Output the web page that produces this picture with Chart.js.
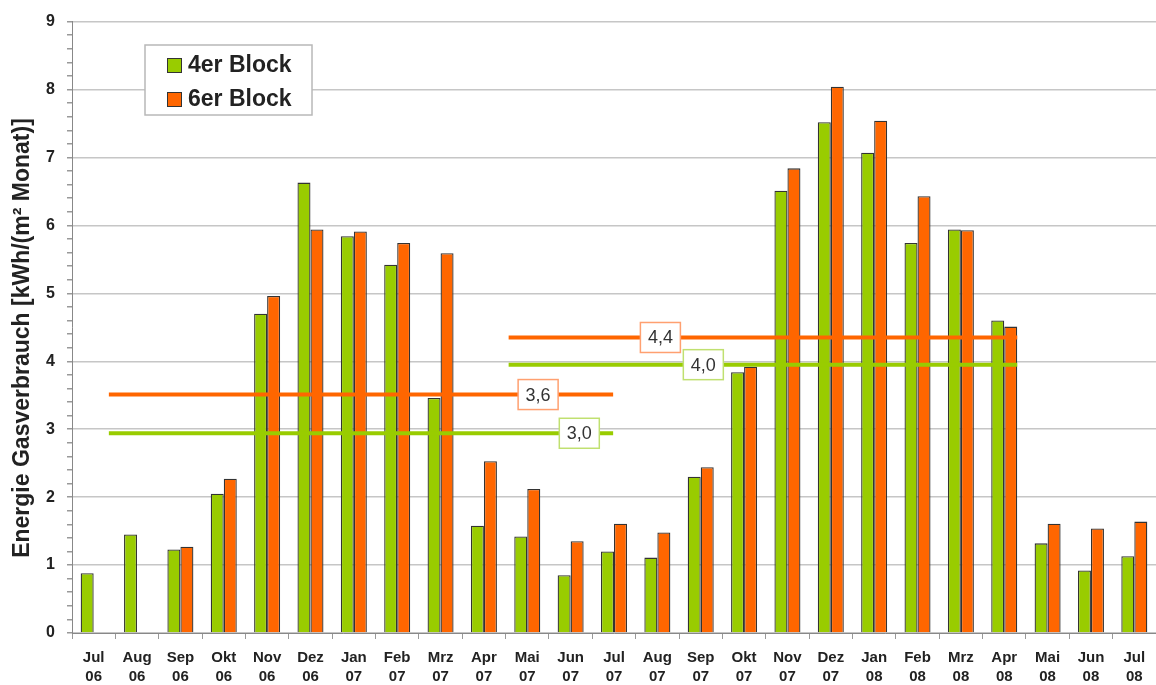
<!DOCTYPE html>
<html>
<head>
<meta charset="utf-8">
<script src="https://cdn.jsdelivr.net/npm/chart.js@4/dist/chart.umd.min.js"></script>
<style>
    html, body { margin: 0; padding: 0; background: #fff; }
    #wrap { width: 1156px; height: 685px; }
</style>
</head>
<body>
<div id="wrap"><canvas id="gasChart"></canvas></div>
<script>
// ============================================
// DATA
// ============================================
const months = ['Jul', 'Aug', 'Sep', 'Okt', 'Nov', 'Dez', 'Jan', 'Feb', 'Mrz', 'Apr', 'Mai', 'Jun', 'Jul',
                'Aug', 'Sep', 'Okt', 'Nov', 'Dez', 'Jan', 'Feb', 'Mrz', 'Apr', 'Mai', 'Jun', 'Jul'];
const years = ['06', '06', '06', '06', '06', '06', '07', '07', '07', '07', '07', '07', '07',
               '07', '07', '07', '07', '07', '08', '08', '08', '08', '08', '08', '08'];

const block4 = [0.88, 1.45, 1.23, 2.05, 4.70, 6.63, 5.84, 5.42, 3.46, 1.58, 1.42, 0.85, 1.20,
                1.11, 2.30, 3.84, 6.51, 7.52, 7.07, 5.74, 5.94, 4.60, 1.32, 0.92, 1.13];
const block6 = [null, null, 1.27, 2.27, 4.96, 5.94, 5.91, 5.74, 5.59, 2.53, 2.12, 1.35, 1.61,
                1.48, 2.44, 3.92, 6.84, 8.04, 7.54, 6.43, 5.93, 4.51, 1.61, 1.54, 1.64];

// yearly averages (horizontal lines), spans given in category index units
const avgLabels = ['3,6', '3,0', '4,4', '4,0'];
const avgValues = [3.51, 2.94, 4.35, 3.95];
const avgFrom = [0.35, 0.35, 9.57, 9.57];
const avgTo = [11.98, 11.98, 21.3, 21.3];

const seriesNames = ['4er Block', '6er Block'];

// ============================================
// STYLE
// ============================================
const GREEN = '#99cc00';
const ORANGE = '#ff6600';
const avgColors = [ORANGE, GREEN, ORANGE, GREEN];
const avgBoxColors = ['#ffa070', '#c0e070', '#ffa070', '#c0e070'];
const avgLabelAt = [10.25, 11.2, 13.07, 14.06];
const FONT = '"Liberation Sans", Arial, sans-serif';

// ============================================
// PLUGIN: average lines, axis title, legend box
// ============================================
const decorations = {
    id: 'decorations',
    afterDatasetsDraw(chart) {
        const ctx = chart.ctx;
        const x2 = chart.scales.x2;
        const y = chart.scales.y;

        // average lines
        ctx.save();
        ctx.lineWidth = 4;
        avgValues.forEach((v, i) => {
            const py = y.getPixelForValue(v);
            ctx.strokeStyle = avgColors[i];
            ctx.beginPath();
            ctx.moveTo(x2.getPixelForValue(avgFrom[i]), py);
            ctx.lineTo(x2.getPixelForValue(avgTo[i]), py);
            ctx.stroke();
        });
        ctx.restore();

        // average labels
        ctx.save();
        ctx.font = `18px ${FONT}`;
        ctx.textAlign = 'center';
        ctx.textBaseline = 'middle';
        avgLabels.forEach((txt, i) => {
            const cx = x2.getPixelForValue(avgLabelAt[i]);
            const cy = y.getPixelForValue(avgValues[i]);
            const w = 40, h = 30;
            ctx.fillStyle = '#fff';
            ctx.fillRect(cx - w / 2, cy - h / 2, w, h);
            ctx.strokeStyle = avgBoxColors[i];
            ctx.lineWidth = 1.5;
            ctx.strokeRect(cx - w / 2, cy - h / 2, w, h);
            ctx.fillStyle = '#333';
            ctx.fillText(txt, cx, cy + 1);
        });
        ctx.restore();

        // legend
        ctx.save();
        ctx.fillStyle = '#fff';
        ctx.fillRect(145, 45, 167, 70);
        ctx.strokeStyle = '#b8b8b8';
        ctx.lineWidth = 1.5;
        ctx.strokeRect(145, 45, 167, 70);
        ctx.font = `bold 23px ${FONT}`;
        ctx.textBaseline = 'middle';
        [GREEN, ORANGE].forEach((c, i) => {
            const cy = 65 + i * 34;
            ctx.fillStyle = c;
            ctx.fillRect(167, cy - 7, 14, 14);
            ctx.strokeStyle = '#333';
            ctx.lineWidth = 1;
            ctx.strokeRect(167.5, cy - 6.5, 14, 14);
            ctx.fillStyle = '#222';
            ctx.fillText(seriesNames[i], 188, cy + 1);
        });
        ctx.restore();

        // y axis title
        ctx.save();
        ctx.translate(23, 338);
        ctx.rotate(-Math.PI / 2);
        ctx.font = `bold 23px ${FONT}`;
        ctx.fillStyle = '#222';
        ctx.textAlign = 'center';
        ctx.textBaseline = 'middle';
        ctx.fillText('Energie Gasverbrauch [kWh/(m\u00b2 Monat)]', 0, 0);
        ctx.restore();
    }
};

// ============================================
// CHART
// ============================================
function isMajor(v) {
    return Math.abs(v - Math.round(v)) < 1e-6;
}

function createChart() {
    const ctx = document.getElementById('gasChart');

    new Chart(ctx, {
        type: 'bar',
        data: {
            labels: months.map((m, i) => [m, years[i]]),
            datasets: [
                {
                    label: seriesNames[0],
                    data: block4,
                    backgroundColor: GREEN,
                    borderColor: '#333',
                    borderWidth: 1.3,
                    categoryPercentage: 0.6,
                    barPercentage: 1.0
                },
                {
                    label: seriesNames[1],
                    data: block6,
                    backgroundColor: ORANGE,
                    borderColor: '#333',
                    borderWidth: 1.3,
                    categoryPercentage: 0.6,
                    barPercentage: 1.0
                }
            ]
        },
        options: {
            responsive: true,
            maintainAspectRatio: false,
            animation: false,
            layout: { padding: { top: 18, right: 0, bottom: 0, left: 0 } },
            plugins: {
                legend: { display: false },
                tooltip: { enabled: false }
            },
            scales: {
                x: {
                    type: 'category',
                    offset: true,
                    grid: {
                        offset: true,
                        drawOnChartArea: false,
                        drawTicks: true,
                        tickLength: 6,
                        tickColor: '#999'
                    },
                    border: { color: '#888', width: 1 },
                    ticks: {
                        color: '#222',
                        font: { family: FONT, size: 15, weight: 'bold', lineHeight: 1.3 },
                        padding: 9,
                        maxRotation: 0,
                        autoSkip: false
                    },
                    afterFit(scale) { scale.height = 52; }
                },
                x2: {
                    type: 'linear',
                    display: false,
                    offset: false,
                    min: -0.5,
                    max: 24.5,
                    grid: { offset: false }
                },
                y: {
                    min: 0,
                    max: 9,
                    ticks: {
                        stepSize: 0.2,
                        autoSkip: false,
                        color: '#222',
                        padding: 12,
                        font: { family: FONT, size: 16, weight: 'bold' },
                        callback: (v) => isMajor(v) ? Math.round(v) : ''
                    },
                    grid: {
                        color: (c) => isMajor(c.tick.value) ? '#c6c6c6' : 'rgba(0,0,0,0)',
                        lineWidth: 1.5,
                        tickColor: '#999',
                        tickLength: 5
                    },
                    border: { color: '#888', width: 1 },
                    afterFit(scale) { scale.width = 72; }
                }
            }
        },
        plugins: [decorations]
    });
}

document.addEventListener('DOMContentLoaded', createChart);
</script>
</body>
</html>
